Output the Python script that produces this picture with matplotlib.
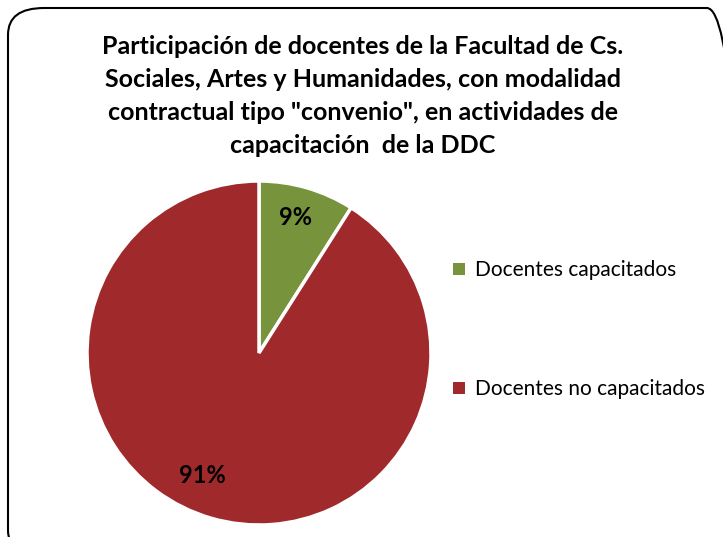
import matplotlib
matplotlib.use("Agg")
import matplotlib.pyplot as plt
from matplotlib.patches import FancyBboxPatch, Patch

categories = ["Docentes capacitados", "Docentes no capacitados"]
values = [9, 91]
colors = ["#77933C", "#A0292C"]
title = ('Participación de docentes de la Facultad de Cs.\n'
         'Sociales, Artes y Humanidades, con modalidad\n'
         'contractual tipo "convenio", en actividades de\n'
         'capacitación  de la DDC')

plt.rcParams['font.family'] = ['Lato', 'DejaVu Sans']
W, H = 723, 537
fig = plt.figure(figsize=(W/100, H/100), dpi=100)

# rounded border
border = FancyBboxPatch((8/W, -20/H), (W + 20 - 8)/W, (H + 20 - 8)/H,
                        boxstyle="round,pad=0,rounding_size=0.05",
                        transform=fig.transFigure, fill=False,
                        edgecolor="black", linewidth=1.5)
fig.patches.append(border)

fig.text(363/W, 1 - 35/H, title, ha="center", va="top", fontsize=18,
         fontweight="bold", linespacing=1.52)

cx, cy, r = 259, 353, 172
ax = fig.add_axes([(cx - r)/W, (H - cy - r)/H, 2*r/W, 2*r/H])
wedges, texts, autotexts = ax.pie(values, colors=colors, startangle=90, counterclock=False,
                                  autopct=lambda p: f"{p:.0f}%", pctdistance=0.79,
                                  wedgeprops=dict(edgecolor="white", linewidth=2.5),
                                  radius=1)
for t in autotexts:
    t.set_fontsize(17)
    t.set_fontweight("bold")
    t.set_color("black")
autotexts[0].set_position((0.215, 0.79))
autotexts[1].set_position((-0.33, -0.71))
ax.set_xlim(-1.0, 1.0)
ax.set_ylim(-1.0, 1.0)
ax.set_aspect("equal")

handles = [Patch(facecolor=c, edgecolor="none") for c in colors]
fig.legend(handles, categories, loc="upper left", bbox_to_anchor=(443/W, 1 - 250/H),
           frameon=False, fontsize=15, handlelength=0.55, handleheight=0.55,
           handletextpad=0.5, labelspacing=4.75, borderpad=0)

fig.savefig("out.png", dpi=100)
